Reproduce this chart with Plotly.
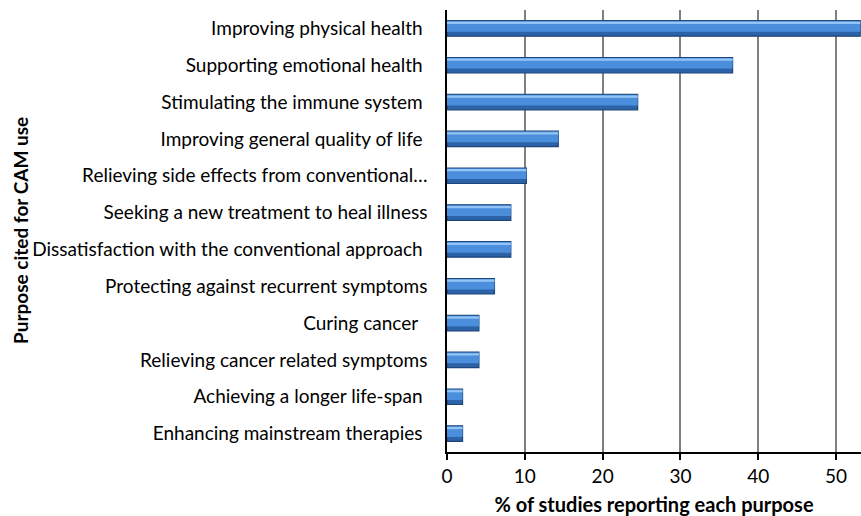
import plotly.graph_objects as go

NB = "\u00a0"
categories = [
    "Improving physical health" + NB,
    "Supporting emotional health" + NB,
    "Stimulating the immune system" + NB,
    "Improving general quality of life" + NB,
    "Relieving side effects from conventional…",
    "Seeking a new treatment to heal illness",
    "Dissatisfaction with the conventional approach" + NB,
    "Protecting against recurrent symptoms",
    "Curing cancer" + NB + NB,
    "Relieving cancer related symptoms",
    "Achieving a longer life-span" + NB,
    "Enhancing mainstream therapies" + NB,
]
values = [53.1, 36.7, 24.5, 14.3, 10.2, 8.2, 8.2, 6.1, 4.1, 4.1, 2.0, 2.0]

FONT = "Lato, 'Open Sans', sans-serif"

fig = go.Figure()
# base bar (darker lower part + outline)
fig.add_trace(go.Bar(
    x=values, y=categories, orientation="h", width=0.42,
    marker=dict(color="#2c63a8", line=dict(color="#1c467a", width=1.2)),
    hoverinfo="skip", showlegend=False,
))
# brighter upper part
fig.add_trace(go.Bar(
    x=values, y=categories, orientation="h", width=0.29, offset=-0.2,
    marker=dict(color="#4b8fdc", line=dict(width=0)),
    hoverinfo="skip", showlegend=False,
))
# highlight stripe
fig.add_trace(go.Bar(
    x=values, y=categories, orientation="h", width=0.06, offset=-0.18,
    marker=dict(color="#92c4f6", line=dict(width=0)),
    hoverinfo="skip", showlegend=False,
))

fig.update_layout(
    width=861, height=516,
    margin=dict(l=447, r=0, t=10, b=64),
    paper_bgcolor="white", plot_bgcolor="white",
    barmode="overlay",
    font=dict(family=FONT, size=19, color="black"),
    xaxis=dict(
        range=[0, 53.2], tickvals=[0, 10, 20, 30, 40, 50],
        showgrid=True, gridcolor="#808080", gridwidth=2,
        showline=True, linecolor="black", linewidth=1.5,
        ticks="outside", ticklen=6, tickcolor="black", tickwidth=1.5,
        zeroline=False,
        title=dict(text="<b>% of studies reporting each purpose</b>",
                   font=dict(family=FONT, size=20), standoff=12),
    ),
    yaxis=dict(
        autorange="reversed", showgrid=False,
        showline=True, linecolor="black", linewidth=1.5,
        ticks="", ticklabelstandoff=14,
    ),
    annotations=[dict(
        text="<b>Purpose cited for CAM use</b>", textangle=-90,
        xref="paper", yref="paper", x=(20 - 447) / 414, y=0.5,
        xanchor="center", yanchor="middle", showarrow=False,
        font=dict(family=FONT, size=19),
    )],
)

fig.write_html("out.html")
